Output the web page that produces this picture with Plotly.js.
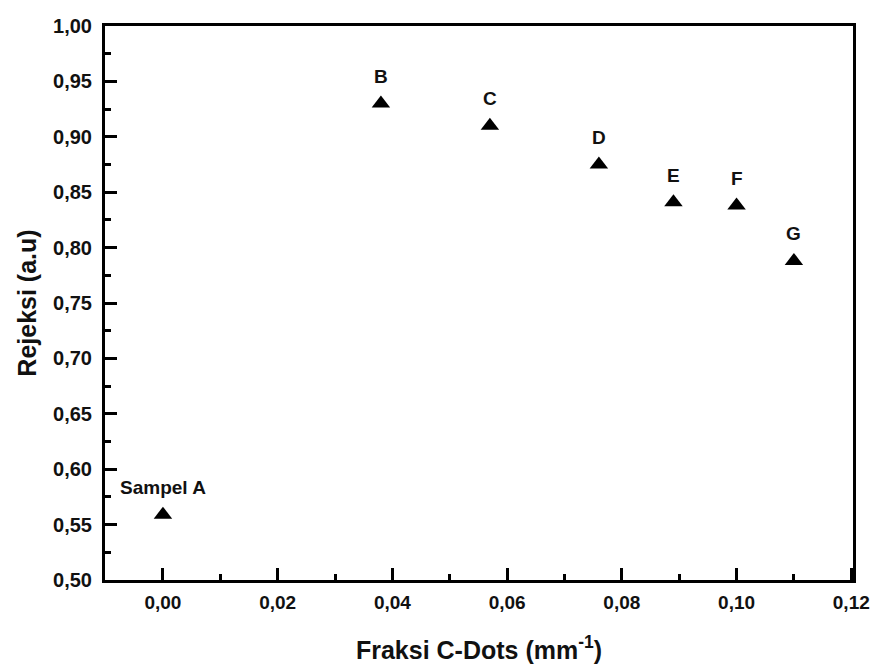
<!DOCTYPE html>
<html>
<head>
<meta charset="utf-8">
<script src="https://cdn.plot.ly/plotly-3.0.1.min.js"></script>
<style>html,body{margin:0;padding:0;background:#fff;}#chart{width:876px;height:664px;}</style>
</head>
<body>
<div id="chart"></div>
<script>
var fraksi = [0.000, 0.038, 0.057, 0.076, 0.089, 0.100, 0.110];
var rejeksi = [0.559, 0.930, 0.910, 0.875, 0.841, 0.838, 0.788];
var labels = ["Sampel A", "B", "C", "D", "E", "F", "G"];
var xTickVals = [0.00, 0.02, 0.04, 0.06, 0.08, 0.10, 0.12];
var xMinorVals = [0.01, 0.03, 0.05, 0.07, 0.09, 0.11];
var yTickVals = [0.50, 0.55, 0.60, 0.65, 0.70, 0.75, 0.80, 0.85, 0.90, 0.95, 1.00];
var yMinorVals = [0.525, 0.575, 0.625, 0.675, 0.725, 0.775, 0.825, 0.875, 0.925, 0.975];

var FONT = "Liberation Sans, Arial, sans-serif";

var trace = {
  x: fraksi, y: rejeksi, mode: "markers", type: "scatter",
  marker: {symbol: "triangle-up", size: 16, color: "#000"},
  cliponaxis: false, hoverinfo: "skip"
};

var annotations = labels.map(function (t, i) {
  return {
    x: fraksi[i], y: rejeksi[i], xref: "x", yref: "y",
    text: t, showarrow: false, yshift: 27,
    xanchor: "center", yanchor: "middle",
    font: {family: FONT, size: 19, color: "#111", weight: "bold"}
  };
});

var axisCommon = {
  showline: true, linecolor: "#000", linewidth: 3, mirror: true,
  ticks: "inside", ticklen: 12, tickwidth: 3, tickcolor: "#000",
  showgrid: false, zeroline: false,
  tickformat: ".2f"
};

var layout = {
  width: 876, height: 664,
  margin: {l: 105, r: 23, t: 26, b: 84},
  paper_bgcolor: "#fff", plot_bgcolor: "#fff",
  separators: ",.", showlegend: false, annotations: annotations,
  xaxis: Object.assign({}, axisCommon, {
    range: [-0.0101, 0.1203], tickmode: "array", tickvals: xTickVals,
    tickfont: {family: FONT, size: 19, color: "#111", weight: "bold"},
    ticklabelstandoff: 3,
    minor: {ticks: "inside", ticklen: 6, tickwidth: 3, tickcolor: "#000", tickmode: "array", tickvals: xMinorVals},
    title: {text: "Fraksi C-Dots (mm<sup>-1</sup>)", font: {family: FONT, size: 25, color: "#111", weight: "bold"}, standoff: 31}
  }),
  yaxis: Object.assign({}, axisCommon, {
    range: [0.5, 1.0], tickmode: "array", tickvals: yTickVals,
    tickfont: {family: FONT, size: 20, color: "#111", weight: "bold"},
    ticklabelstandoff: 6,
    minor: {ticks: "inside", ticklen: 6, tickwidth: 3, tickcolor: "#000", tickmode: "array", tickvals: yMinorVals},
    title: {text: "Rejeksi (a.u)", font: {family: FONT, size: 25, color: "#111", weight: "bold"}, standoff: 10}
  })
};

Plotly.newPlot("chart", [trace], layout, {displayModeBar: false, staticPlot: true});
</script>
</body>
</html>
